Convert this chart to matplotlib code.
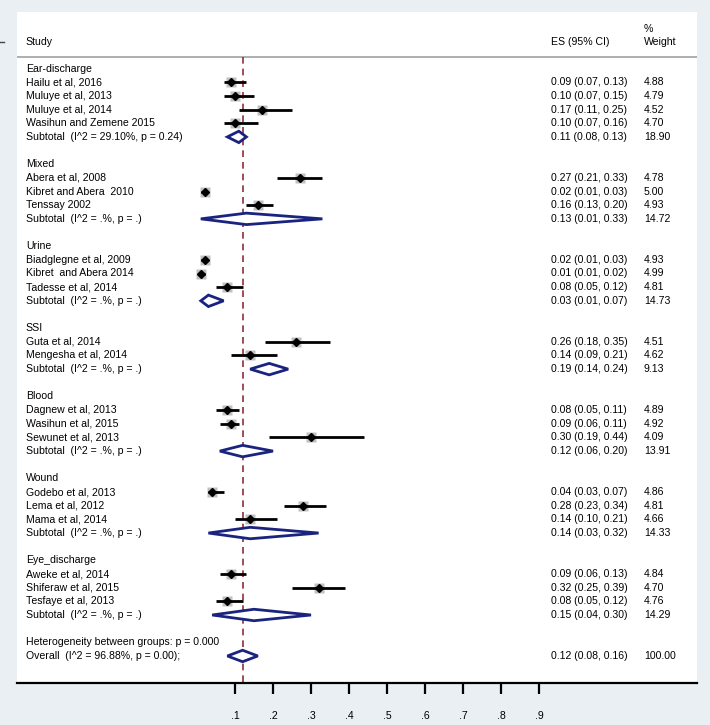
import numpy as np
import matplotlib
matplotlib.use('Agg')
import matplotlib.pyplot as plt
from matplotlib.lines import Line2D
from matplotlib.patches import Polygon

plt.rcParams['font.family'] = ['Liberation Sans', 'DejaVu Sans']

groups = ['Ear-discharge', 'Mixed', 'Urine', 'SSI', 'Blood', 'Wound', 'Eye_discharge']
studies = [
    ['Hailu et al, 2016', 'Muluye et al, 2013', 'Muluye et al, 2014', 'Wasihun and Zemene 2015'],
    ['Abera et al, 2008', 'Kibret and Abera  2010', 'Tenssay 2002'],
    ['Biadglegne et al, 2009', 'Kibret  and Abera 2014', 'Tadesse et al, 2014'],
    ['Guta et al, 2014', 'Mengesha et al, 2014'],
    ['Dagnew et al, 2013', 'Wasihun et al, 2015', 'Sewunet et al, 2013'],
    ['Godebo et al, 2013', 'Lema et al, 2012', 'Mama et al, 2014'],
    ['Aweke et al, 2014', 'Shiferaw et al, 2015', 'Tesfaye et al, 2013'],
]
es = [[0.09, 0.10, 0.17, 0.10], [0.27, 0.02, 0.16], [0.02, 0.01, 0.08], [0.26, 0.14],
      [0.08, 0.09, 0.30], [0.04, 0.28, 0.14], [0.09, 0.32, 0.08]]
lo = [[0.07, 0.07, 0.11, 0.07], [0.21, 0.01, 0.13], [0.01, 0.01, 0.05], [0.18, 0.09],
      [0.05, 0.06, 0.19], [0.03, 0.23, 0.10], [0.06, 0.25, 0.05]]
hi = [[0.13, 0.15, 0.25, 0.16], [0.33, 0.03, 0.20], [0.03, 0.02, 0.12], [0.35, 0.21],
      [0.11, 0.11, 0.44], [0.07, 0.34, 0.21], [0.13, 0.39, 0.12]]
weight = [[4.88, 4.79, 4.52, 4.70], [4.78, 5.00, 4.93], [4.93, 4.99, 4.81], [4.51, 4.62],
          [4.89, 4.92, 4.09], [4.86, 4.81, 4.66], [4.84, 4.70, 4.76]]
sub_label = ['Subtotal  (I^2 = 29.10%, p = 0.24)'] + ['Subtotal  (I^2 = .%, p = .)'] * 6
sub_es = [0.11, 0.13, 0.03, 0.19, 0.12, 0.14, 0.15]
sub_lo = [0.08, 0.01, 0.01, 0.14, 0.06, 0.03, 0.04]
sub_hi = [0.13, 0.33, 0.07, 0.24, 0.20, 0.32, 0.30]
sub_w = [18.90, 14.72, 14.73, 9.13, 13.91, 14.33, 14.29]
het_label = 'Heterogeneity between groups: p = 0.000'
overall_label = 'Overall  (I^2 = 96.88%, p = 0.00);'
overall = (0.12, 0.08, 0.16, 100.00)
xticks = [0.1, 0.2, 0.3, 0.4, 0.5, 0.6, 0.7, 0.8, 0.9]
xticklabels = ['.1', '.2', '.3', '.4', '.5', '.6', '.7', '.8', '.9']

W, H = 710, 725
fig = plt.figure(figsize=(W / 100, H / 100), dpi=100, facecolor='#e9eff2')
ax = fig.add_axes([17 / W, 1 - 683 / H, 680 / W, 671 / H])
ax.set_facecolor('white')

# pixel layout: x = 197 + 380 * v ; rows 13.66 px apart starting at y = 68.6
ax.set_xlim((17 - 197) / 380, (697 - 197) / 380)
row0, dy = 68.6, 13.66
ax.set_ylim((683 - row0) / dy, (12 - row0) / dy)

fs = 7.6
navy = '#1a237e'
xs, xe, xw = 0.013, 0.785, 0.922  # column positions (axes fraction)
tr = ax.get_yaxis_transform()


def fmt(e, l, h):
    return '%.2f (%.2f, %.2f)' % (e, l, h)


def diamond(e, l, h, y):
    ax.add_patch(Polygon([[l, y], [e, y - 0.42], [h, y], [e, y + 0.42]], closed=True,
                         facecolor='white', edgecolor=navy, lw=2.0, zorder=4))


row = 0
for g in range(len(groups)):
    ax.text(xs, row, groups[g], transform=tr, fontsize=fs, va='center')
    row += 1
    for i in range(len(studies[g])):
        ax.text(xs, row, studies[g][i], transform=tr, fontsize=fs, va='center')
        ax.text(xe, row, fmt(es[g][i], lo[g][i], hi[g][i]), transform=tr, fontsize=fs, va='center')
        ax.text(xw, row, '%.2f' % weight[g][i], transform=tr, fontsize=fs, va='center')
        ax.plot(es[g][i], row, 's', ms=7.4 * np.sqrt(weight[g][i] / 5), color='#c0c0c0',
                mec='none', zorder=2)
        ax.plot([lo[g][i], hi[g][i]], [row, row], color='black', lw=2.0, zorder=3,
                solid_capstyle='butt')
        ax.plot(es[g][i], row, 'D', ms=4.0, color='black', zorder=5)
        row += 1
    ax.text(xs, row, sub_label[g], transform=tr, fontsize=fs, va='center')
    ax.text(xe, row, fmt(sub_es[g], sub_lo[g], sub_hi[g]), transform=tr, fontsize=fs, va='center')
    ax.text(xw, row, '%.2f' % sub_w[g], transform=tr, fontsize=fs, va='center')
    diamond(sub_es[g], sub_lo[g], sub_hi[g], row)
    row += 2

ax.text(xs, row, het_label, transform=tr, fontsize=fs, va='center')
row += 1
ax.text(xs, row, overall_label, transform=tr, fontsize=fs, va='center')
ax.text(xe, row, fmt(*overall[:3]), transform=tr, fontsize=fs, va='center')
ax.text(xw, row, '%.2f' % overall[3], transform=tr, fontsize=fs, va='center')
diamond(overall[0], overall[1], overall[2], row)

# header
ax.text(xs, -1.97, 'Study', transform=tr, fontsize=fs, va='center')
ax.text(xe, -1.97, 'ES (95% CI)', transform=tr, fontsize=fs, va='center')
ax.text(xw, -2.9, '%', transform=tr, fontsize=fs, va='center')
ax.text(xw, -1.97, 'Weight', transform=tr, fontsize=fs, va='center')
ax.axhline(-0.87, color='#a8a8a8', lw=1.3, zorder=1)

# reference line at overall estimate
ax.plot([overall[0], overall[0]], [-0.87, ax.get_ylim()[0]], color='#8e2f3e', lw=1.2,
        ls=(0, (4, 3)), zorder=1)

for s in ['top', 'left', 'right']:
    ax.spines[s].set_visible(False)
ax.spines['bottom'].set_linewidth(1.6)
ax.set_yticks([])
ax.set_xticks(xticks)
ax.set_xticklabels(xticklabels, fontsize=fs)
ax.tick_params(axis='x', length=8, width=1.6, pad=12)

fig.add_artist(Line2D([0, 4 / W], [1 - 42 / H, 1 - 42 / H], color='#444444', lw=1))

plt.savefig('out.png', dpi=100, facecolor=fig.get_facecolor())
